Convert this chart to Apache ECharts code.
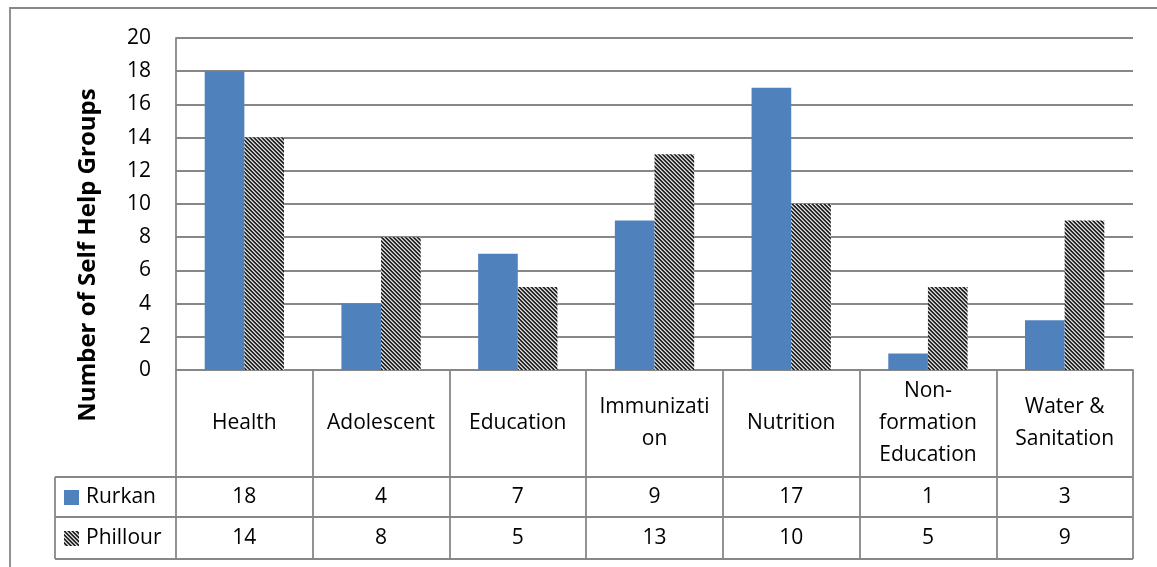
<!DOCTYPE html>
<html>
<head>
<meta charset="utf-8">
<script src="https://cdn.jsdelivr.net/npm/echarts@6/dist/echarts.min.js"></script>
<style>
  html, body { margin: 0; padding: 0; background: #fff; }
  #chart { width: 1157px; height: 567px; }
</style>
</head>
<body>
<div id="chart"></div>
<script>
// Focus areas of the self help groups (line breaks as shown in the table cells)
const categories = ['Health', 'Adolescent', 'Education', 'Immunizati\non', 'Nutrition', 'Non-\nformation\nEducation', 'Water &\nSanitation'];
const seriesNames = ['Rurkan', 'Phillour'];
const rurkan = [18, 4, 7, 9, 17, 1, 3];
const phillour = [14, 8, 5, 13, 10, 5, 9];
const yTicks = { min: 0, max: 20, interval: 2 };
const yTitle = 'Number of Self Help Groups';

const FONT = 'Open Sans';
const LINE = '#878787';

// diagonal hatch used for the Phillour series
function hatchCanvas() {
  const c = document.createElement('canvas');
  c.width = 8; c.height = 8;
  const ctx = c.getContext('2d');
  const img = ctx.createImageData(8, 8);
  for (let y = 0; y < 8; y++) {
    for (let x = 0; x < 8; x++) {
      const k = ((x - y) % 4 + 4) % 4;
      const v = k === 0 ? 25 : k === 1 ? 60 : k === 2 ? 225 : 150;
      const p = (y * 8 + x) * 4;
      img.data[p] = v; img.data[p + 1] = v; img.data[p + 2] = v; img.data[p + 3] = 255;
    }
  }
  ctx.putImageData(img, 0, 0);
  return c;
}
const hatch = { image: hatchCanvas(), repeat: 'repeat' };

// plot / table geometry
const G = { left: 176, right: 1133, top: 38, bottom: 370 };
const rowY = [477, 517, 559];   // table row boundaries below the category row
const tableLeft = 55;

const chart = echarts.init(document.getElementById('chart'), null, { renderer: 'canvas' });

function valueAxis(values, offset, margin) {
  return {
    type: 'category',
    position: 'bottom',
    offset: offset,
    data: categories,
    axisLine: { show: false },
    axisTick: { show: false },
    axisLabel: {
      interval: 0, margin: margin, verticalAlign: 'middle',
      fontFamily: FONT, fontSize: 21, color: '#000',
      formatter: (v, i) => String(values[i])
    }
  };
}

const hLines = rowY.map(y => ({
  type: 'line', silent: true,
  shape: { x1: tableLeft, y1: y, x2: G.right, y2: y },
  style: { stroke: LINE, lineWidth: 1.8 }
}));

chart.setOption({
  animation: false,
  textStyle: { fontFamily: FONT },
  grid: { left: G.left, right: 1157 - G.right, top: G.top, bottom: 567 - G.bottom, containLabel: false },
  legend: {
    orient: 'vertical',
    left: 64, top: 483, padding: 0,
    itemWidth: 15, itemHeight: 15, itemGap: 12,
    icon: 'rect',
    textStyle: { fontFamily: FONT, fontSize: 21, color: '#000', lineHeight: 29, padding: [0, 0, 0, 2] },
    data: seriesNames
  },
  xAxis: [
    {
      type: 'category',
      data: categories,
      axisLine: { show: true, lineStyle: { color: LINE, width: 1.8 } },
      axisTick: { show: true, interval: 0, length: rowY[2] - G.bottom, lineStyle: { color: LINE, width: 1.8 } },
      axisLabel: {
        interval: 0, margin: 53, verticalAlign: 'middle',
        fontFamily: FONT, fontSize: 21, color: '#000', lineHeight: 32
      }
    },
    valueAxis(rurkan, rowY[0] - G.bottom, 20),
    valueAxis(phillour, rowY[1] - G.bottom, 21)
  ],
  yAxis: {
    type: 'value',
    min: yTicks.min, max: yTicks.max, interval: yTicks.interval,
    axisLine: { show: true, lineStyle: { color: LINE, width: 1.8 } },
    axisTick: { show: false },
    splitLine: { show: true, lineStyle: { color: LINE, width: 1.8 } },
    axisLabel: { margin: 25, fontFamily: FONT, fontSize: 21, color: '#000' }
  },
  series: [
    {
      name: seriesNames[0], type: 'bar', data: rurkan,
      barGap: '0%', barCategoryGap: '42%',
      itemStyle: { color: '#4F81BD' }
    },
    {
      name: seriesNames[1], type: 'bar', data: phillour,
      barGap: '0%', barCategoryGap: '42%',
      itemStyle: { color: hatch }
    }
  ],
  graphic: [
    {
      type: 'rect', silent: true,
      shape: { x: 10, y: 8, width: 1300, height: 700 },
      style: { fill: 'none', stroke: LINE, lineWidth: 1.8 }
    },
    ...hLines,
    {
      type: 'line', silent: true,
      shape: { x1: tableLeft, y1: rowY[0], x2: tableLeft, y2: rowY[2] },
      style: { stroke: LINE, lineWidth: 1.8 }
    },
    {
      type: 'text', silent: true,
      x: 88, y: 255, rotation: Math.PI / 2,
      style: {
        text: yTitle, fontFamily: FONT, fontSize: 24, fontWeight: 'bold',
        fill: '#000', align: 'center', verticalAlign: 'middle'
      }
    }
  ]
});
</script>
</body>
</html>
